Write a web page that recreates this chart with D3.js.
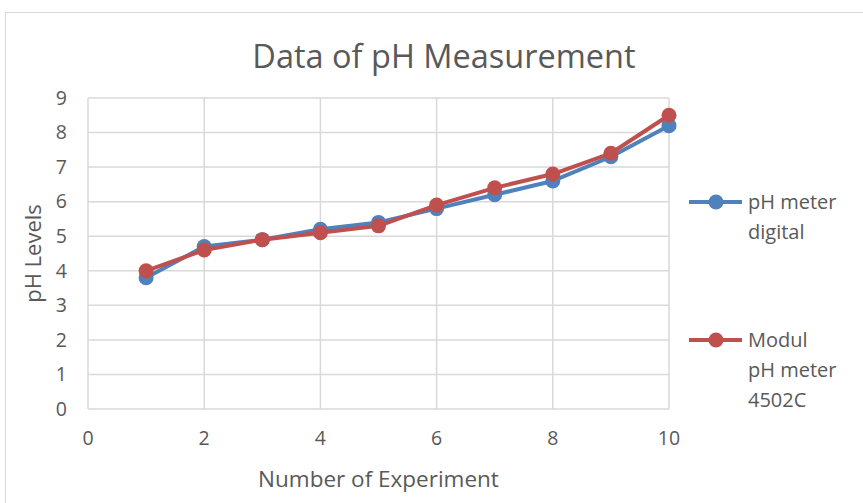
<!DOCTYPE html>
<html>
<head>
<meta charset="utf-8">
<script src="https://cdn.jsdelivr.net/npm/d3@7"></script>
<style>
  body { margin: 0; background: #fff; }
  svg { display: block; font-family: "Open Sans", "Noto Sans", sans-serif; }
</style>
</head>
<body>
<div id="chart"></div>
<script>
const experiments = [1, 2, 3, 4, 5, 6, 7, 8, 9, 10];
const phDigital = [3.8, 4.7, 4.9, 5.2, 5.4, 5.8, 6.2, 6.6, 7.3, 8.2];
const phModul = [4.0, 4.6, 4.9, 5.1, 5.3, 5.9, 6.4, 6.8, 7.4, 8.5];
const xTicks = [0, 2, 4, 6, 8, 10];
const yTicks = [0, 1, 2, 3, 4, 5, 6, 7, 8, 9];
const seriesNames = [["pH meter", "digital"], ["Modul", "pH meter", "4502C"]];

const width = 863;
const height = 503;
const margin = { top: 98, right: 194, bottom: 94, left: 88 };

const svg = d3.select('#chart')
  .append('svg')
  .attr('width', width)
  .attr('height', height);

// chart frame
svg.append('rect')
  .attr('x', 5.5).attr('y', 12.5)
  .attr('width', width + 10).attr('height', height)
  .attr('fill', '#fff')
  .attr('stroke', '#d9d9d9');

const x = d3.scaleLinear().domain([0, 10]).range([margin.left, width - margin.right]);
const y = d3.scaleLinear().domain([0, 9]).range([height - margin.bottom, margin.top]);

const grid = svg.append('g').attr('stroke', '#d9d9d9').attr('stroke-width', 1.5);
grid.selectAll('line.h')
  .data(yTicks)
  .enter()
  .append('line')
  .attr('x1', x(0)).attr('x2', x(10))
  .attr('y1', d => y(d)).attr('y2', d => y(d));
grid.selectAll('line.v')
  .data(xTicks)
  .enter()
  .append('line')
  .attr('y1', y(0)).attr('y2', y(9))
  .attr('x1', d => x(d)).attr('x2', d => x(d));

svg.append('g')
  .selectAll('text')
  .data(yTicks)
  .enter()
  .append('text')
  .attr('x', x(0) - 21)
  .attr('y', d => y(d))
  .attr('dy', '0.35em')
  .attr('text-anchor', 'end')
  .attr('font-size', 19.5)
  .attr('fill', '#595959')
  .text(d => d);

svg.append('g')
  .selectAll('text')
  .data(xTicks)
  .enter()
  .append('text')
  .attr('x', d => x(d))
  .attr('y', y(0) + 36)
  .attr('text-anchor', 'middle')
  .attr('font-size', 19.5)
  .attr('fill', '#595959')
  .text(d => d);

svg.append('text')
  .attr('x', 444).attr('y', 68)
  .attr('text-anchor', 'middle')
  .attr('font-size', 32.5)
  .attr('fill', '#595959')
  .text('Data of pH Measurement');

svg.append('text')
  .attr('x', (x(0) + x(10)) / 2).attr('y', 487)
  .attr('text-anchor', 'middle')
  .attr('font-size', 22.5)
  .attr('fill', '#595959')
  .text('Number of Experiment');

svg.append('text')
  .attr('transform', `translate(41,${(y(0) + y(9)) / 2}) rotate(-90)`)
  .attr('text-anchor', 'middle')
  .attr('font-size', 22)
  .attr('fill', '#595959')
  .text('pH Levels');

const series = [
  { values: phDigital, color: '#4f81bd' },
  { values: phModul, color: '#c0504d' }
];

const line = d3.line()
  .x((d, i) => x(experiments[i]))
  .y(d => y(d));

series.forEach(s => {
  svg.append('path')
    .attr('d', line(s.values))
    .attr('fill', 'none')
    .attr('stroke', s.color)
    .attr('stroke-width', 4)
    .attr('stroke-linejoin', 'round');
  svg.append('g')
    .selectAll('circle')
    .data(s.values)
    .enter()
    .append('circle')
    .attr('cx', (d, i) => x(experiments[i]))
    .attr('cy', d => y(d))
    .attr('r', 7.5)
    .attr('fill', s.color);
});

// legend
const legendY = [202, 340];
series.forEach((s, k) => {
  const g = svg.append('g').attr('transform', `translate(0,${legendY[k]})`);
  g.append('line')
    .attr('x1', 689).attr('x2', 742)
    .attr('stroke', s.color).attr('stroke-width', 4);
  g.append('circle')
    .attr('cx', 716).attr('r', 7.5)
    .attr('fill', s.color);
  g.selectAll('text')
    .data(seriesNames[k])
    .enter()
    .append('text')
    .attr('x', 748)
    .attr('y', (d, i) => i * 30)
    .attr('dy', '0.35em')
    .attr('font-size', 20)
    .attr('fill', '#595959')
    .text(d => d);
});
</script>
</body>
</html>
